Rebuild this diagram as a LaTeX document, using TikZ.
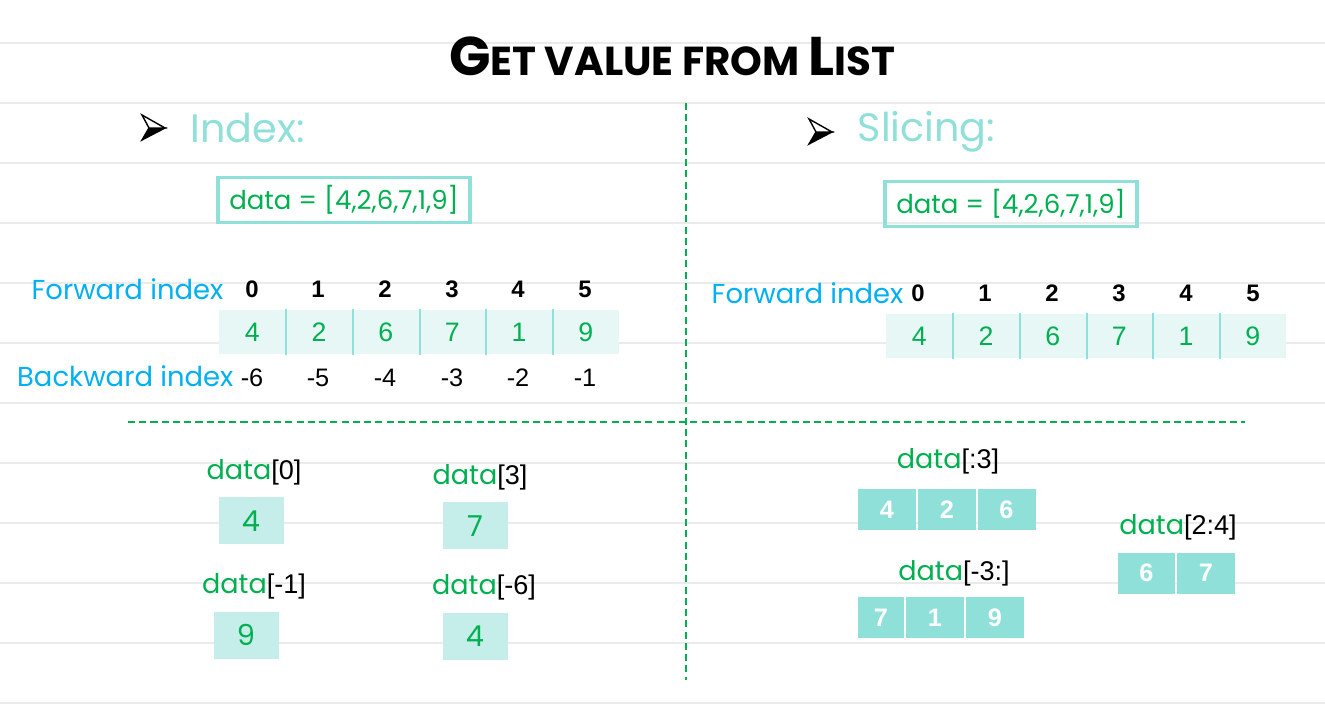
\documentclass[tikz,border=0pt]{standalone}
\usepackage{fontspec}
\usepackage{tikz}
\usepackage{color}
\newfontfamily\roundfont{Poppins}
\newfontfamily\arialfont{Liberation Sans}

\definecolor{tealline}{HTML}{8FE0D8}
\definecolor{cellpale}{HTML}{E6F7F5}
\definecolor{cellmid}{HTML}{C5EDE9}
\definecolor{celldark}{HTML}{90E0DA}
\definecolor{codegreen}{HTML}{00B050}
\definecolor{labelblue}{HTML}{00B0F0}
\definecolor{ruleline}{HTML}{EBEBEB}

\begin{document}
\begin{tikzpicture}[%
      x=0.1mm, y=-0.1mm,
      heading/.style={text=tealline, font=\roundfont\fontsize{11.3}{12}\selectfont, anchor=west, inner sep=0},
      listbox/.style={draw=tealline, line width=0.9pt, minimum width=25.2mm, minimum height=4.5mm,
        inner sep=0, text=codegreen, font=\roundfont\fontsize{7.4}{8}\selectfont},
      rowlabel/.style={text=labelblue, font=\roundfont\fontsize{7.8}{8}\selectfont, anchor=east, inner sep=0},
      idxnum/.style={font=\arialfont\bfseries\fontsize{6.8}{7}\selectfont, inner sep=0},
      negnum/.style={font=\arialfont\fontsize{7.2}{8}\selectfont, inner sep=0},
      palecell/.style={fill=cellpale, minimum width=6.67mm, minimum height=4.4mm, inner sep=0,
        text=codegreen, font=\arialfont\fontsize{7.6}{8}\selectfont},
      onecell/.style={fill=cellmid, minimum width=6.5mm, minimum height=4.7mm, inner sep=0,
        text=codegreen, font=\roundfont\fontsize{8.2}{9}\selectfont},
      slicecell/.style={fill=celldark, minimum width=5.8mm, minimum height=4.1mm, inner sep=0,
        text=white, font=\arialfont\bfseries\fontsize{7.2}{8}\selectfont},
      access/.style={inner sep=0, font=\fontsize{7.7}{8}\selectfont},
      divider/.style={draw=codegreen, line width=0.5pt, dash pattern=on 2pt off 1.2pt},
      sepline/.style={draw=tealline, line width=0.6pt},
      ]
      \useasboundingbox (0,0) rectangle (1325,728);

      % faint ruled lines of the page
      \foreach \yy in {43,103,...,703}
        \draw [ruleline, line width=0.4pt] (0,\yy) -- (1325,\yy);

      % title
      \node (title) at (672,56) {\roundfont\bfseries
        \fontsize{15.5}{16}\selectfont G\fontsize{11.5}{12}\selectfont ET VALUE FROM
        \fontsize{15.5}{16}\selectfont L\fontsize{11.5}{12}\selectfont IST};

      % dividers
      \coordinate (vtop) at (686,103);
      \coordinate (vbot) at (686,680);
      \coordinate (hleft) at (128,422);
      \coordinate (hright) at (1245,422);
      \draw [divider] (vtop) -- (vbot);
      \draw [divider] (hleft) -- (hright);

      % bullets
      \filldraw [black] (149,128) -- (165,128) -- (142,140) -- cycle;
      \draw [black, line width=0.4pt, fill=white] (149,128) -- (142,115) -- (165,128) -- cycle;
      \filldraw [black] (816,132) -- (832,132) -- (809,144) -- cycle;
      \draw [black, line width=0.4pt, fill=white] (816,132) -- (809,119) -- (832,132) -- cycle;

      \node [heading] (hindex) at (190,128) {Index:};
      \node [heading] (hslice) at (857,132) {Slicing:};

      \node [listbox] (listL) at (344,200) {data = [4,2,6,7,1,9]};
      \node [listbox] (listR) at (1011,204) {data = [4,2,6,7,1,9]};

      % ---- index side ----
      \node [rowlabel] (fwdL) at (224,289) {Forward index};
      \node [rowlabel] (bwdL) at (234,376) {Backward index};

      \node [idxnum] (fL0) at (252,289) {0};
      \node [idxnum] (fL1) at (318,289) {1};
      \node [idxnum] (fL2) at (385,289) {2};
      \node [idxnum] (fL3) at (452,289) {3};
      \node [idxnum] (fL4) at (518,289) {4};
      \node [idxnum] (fL5) at (585,289) {5};

      \node [palecell] (cL0) at (252.3,332) {4};
      \node [palecell] (cL1) at (319,332) {2};
      \node [palecell] (cL2) at (385.7,332) {6};
      \node [palecell] (cL3) at (452.3,332) {7};
      \node [palecell] (cL4) at (519,332) {1};
      \node [palecell] (cL5) at (585.7,332) {9};
      \draw [sepline] (cL0.north east) -- (cL0.south east);
      \draw [sepline] (cL1.north east) -- (cL1.south east);
      \draw [sepline] (cL2.north east) -- (cL2.south east);
      \draw [sepline] (cL3.north east) -- (cL3.south east);
      \draw [sepline] (cL4.north east) -- (cL4.south east);

      \node [negnum] (bL0) at (252,378) {-6};
      \node [negnum] (bL1) at (318,378) {-5};
      \node [negnum] (bL2) at (385,378) {-4};
      \node [negnum] (bL3) at (452,378) {-3};
      \node [negnum] (bL4) at (518,378) {-2};
      \node [negnum] (bL5) at (585,378) {-1};

      % ---- slicing side ----
      \node [rowlabel] (fwdR) at (904,293) {Forward index};

      \node [idxnum] (fR0) at (918,293) {0};
      \node [idxnum] (fR1) at (985,293) {1};
      \node [idxnum] (fR2) at (1052,293) {2};
      \node [idxnum] (fR3) at (1119,293) {3};
      \node [idxnum] (fR4) at (1186,293) {4};
      \node [idxnum] (fR5) at (1253,293) {5};

      \node [palecell] (cR0) at (919.3,336) {4};
      \node [palecell] (cR1) at (986,336) {2};
      \node [palecell] (cR2) at (1052.7,336) {6};
      \node [palecell] (cR3) at (1119.3,336) {7};
      \node [palecell] (cR4) at (1186,336) {1};
      \node [palecell] (cR5) at (1252.7,336) {9};
      \draw [sepline] (cR0.north east) -- (cR0.south east);
      \draw [sepline] (cR1.north east) -- (cR1.south east);
      \draw [sepline] (cR2.north east) -- (cR2.south east);
      \draw [sepline] (cR3.north east) -- (cR3.south east);
      \draw [sepline] (cR4.north east) -- (cR4.south east);

      % ---- single values ----
      \node [access] (a0) at (254,472) {\roundfont\textcolor{codegreen}{data}\arialfont[0]};
      \node [onecell] (v0) at (251,521) {4};
      \node [access] (a3) at (480,477) {\roundfont\textcolor{codegreen}{data}\arialfont[3]};
      \node [onecell] (v3) at (475,526) {7};
      \node [access] (am1) at (254,586) {\roundfont\textcolor{codegreen}{data}\arialfont[-1]};
      \node [onecell] (vm1) at (246,635) {9};
      \node [access] (am6) at (484,587) {\roundfont\textcolor{codegreen}{data}\arialfont[-6]};
      \node [onecell] (vm6) at (475,636) {4};

      % ---- slices ----
      \node [access] (s1) at (948,461) {\roundfont\textcolor{codegreen}{data}\arialfont[:3]};
      \node [slicecell] (s1a) at (887,509.5) {4};
      \node [slicecell] (s1b) at (947,509.5) {2};
      \node [slicecell] (s1c) at (1006.5,509.5) {6};

      \node [access] (s2) at (954,573) {\roundfont\textcolor{codegreen}{data}\arialfont[-3:]};
      \node [slicecell, minimum width=4.6mm] (s2a) at (881,617.5) {7};
      \node [slicecell] (s2b) at (935,617.5) {1};
      \node [slicecell] (s2c) at (995,617.5) {9};

      \node [access] (s3) at (1178,527) {\roundfont\textcolor{codegreen}{data}\arialfont[2:4]};
      \node [slicecell, minimum width=5.7mm] (s3a) at (1146.5,573) {6};
      \node [slicecell, minimum width=5.8mm] (s3b) at (1206,573) {7};
      \end{tikzpicture}
\end{document}
